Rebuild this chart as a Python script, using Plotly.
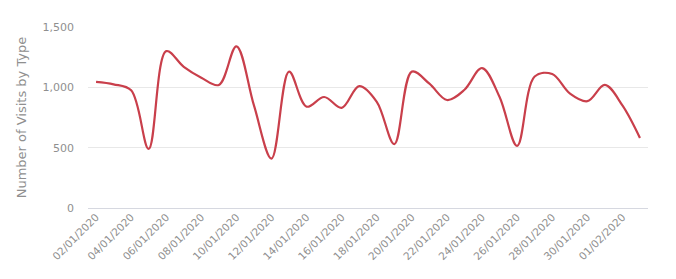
import plotly.graph_objects as go
import pandas as pd

dates = pd.date_range("2020-01-02", "2020-02-02", freq="D")
visits = [1045, 1025, 975, 490, 1300, 1170, 1080, 1020, 1340, 850,
          410, 1130, 840, 920, 830, 1010, 880, 530, 1130, 1030,
          895, 980, 1160, 920, 515, 1090, 1110, 950, 885, 1020,
          850, 580]
y_ticks = [0, 500, 1000, 1500]

fig = go.Figure(go.Scatter(
    x=dates, y=visits, mode="lines",
    line=dict(color="#c93f4b", width=2.2, shape="spline", smoothing=1.0),
    hoverinfo="skip"))

fig.update_layout(
    width=676, height=279,
    margin=dict(l=88, r=28, t=27, b=71),
    paper_bgcolor="white", plot_bgcolor="white",
    font=dict(family="DejaVu Sans, sans-serif", color="#8f8f8f", size=11),
    showlegend=False,
)
fig.update_xaxes(
    range=[pd.Timestamp("2020-01-02") - pd.Timedelta(hours=11),
           pd.Timestamp("2020-02-02") + pd.Timedelta(hours=11)],
    tickmode="linear", tick0="2020-01-02", dtick=2 * 86400000,
    tickformat="%d/%m/%Y", tickangle=-45, showgrid=False, zeroline=False,
    showline=False, tickfont=dict(size=10.5, color="#8f8f8f"),
)
fig.update_yaxes(
    range=[0, 1500], tickvals=y_ticks, tickformat=",d",
    showgrid=True, gridcolor="#e8e8e8", gridwidth=1,
    zeroline=True, zerolinecolor="#d6d8e0", zerolinewidth=1,
    ticklabelstandoff=13,
    title=dict(text="Number of Visits by Type", font=dict(size=13, color="#8f8f8f"), standoff=12),
    tickfont=dict(size=11, color="#8f8f8f"),
)
fig.write_html("out.html")
